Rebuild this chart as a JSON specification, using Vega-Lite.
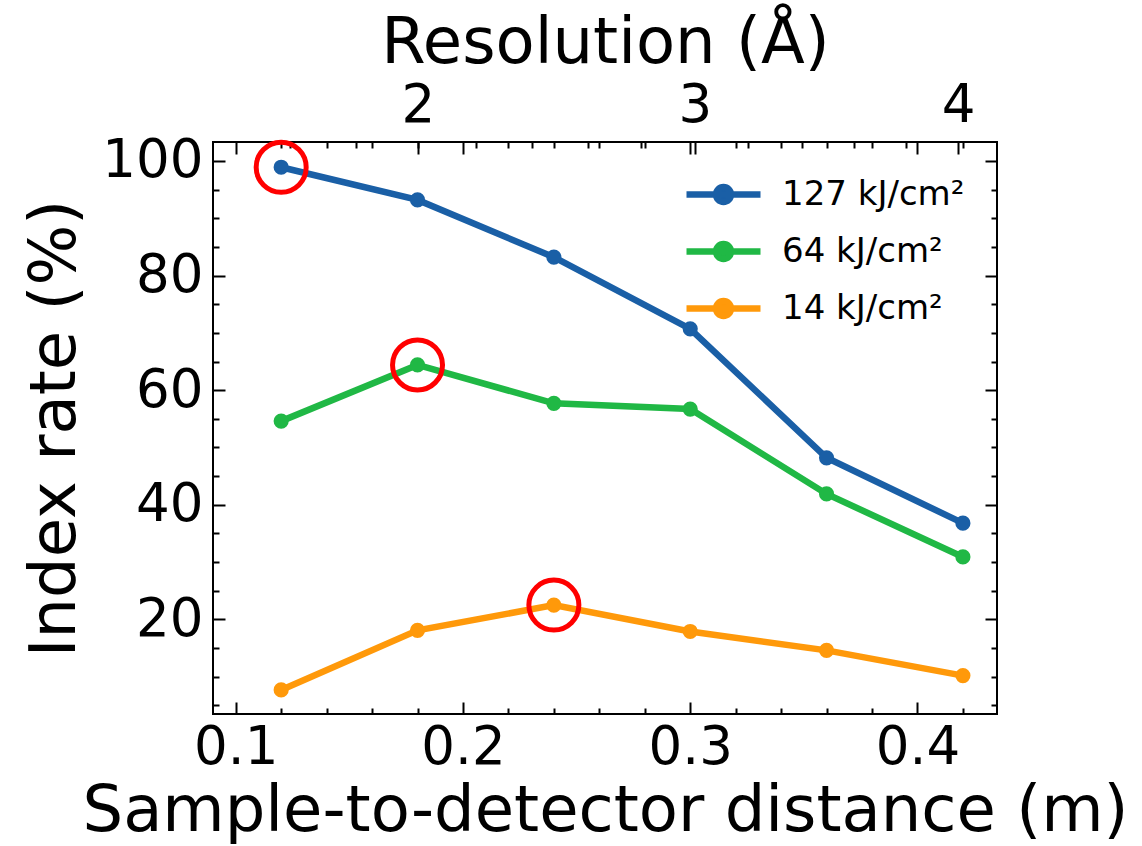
{
  "$schema": "https://vega.github.io/schema/vega-lite/v6.json",
  "width": 784,
  "height": 572,
  "autosize": {"type": "none"},
  "padding": {"left": 213, "top": 142, "right": 145, "bottom": 132},
  "background": "white",
  "data": {
    "values": [
      {"d": 0.12, "v": 98.9, "s": "127 kJ/cm²"},
      {"d": 0.18, "v": 93.2, "s": "127 kJ/cm²"},
      {"d": 0.24, "v": 83.2, "s": "127 kJ/cm²"},
      {"d": 0.30, "v": 70.7, "s": "127 kJ/cm²"},
      {"d": 0.36, "v": 48.2, "s": "127 kJ/cm²"},
      {"d": 0.42, "v": 36.8, "s": "127 kJ/cm²"},
      {"d": 0.12, "v": 54.6, "s": "64 kJ/cm²"},
      {"d": 0.18, "v": 64.4, "s": "64 kJ/cm²"},
      {"d": 0.24, "v": 57.7, "s": "64 kJ/cm²"},
      {"d": 0.30, "v": 56.7, "s": "64 kJ/cm²"},
      {"d": 0.36, "v": 41.9, "s": "64 kJ/cm²"},
      {"d": 0.42, "v": 30.9, "s": "64 kJ/cm²"},
      {"d": 0.12, "v": 7.7, "s": "14 kJ/cm²"},
      {"d": 0.18, "v": 18.1, "s": "14 kJ/cm²"},
      {"d": 0.24, "v": 22.5, "s": "14 kJ/cm²"},
      {"d": 0.30, "v": 17.9, "s": "14 kJ/cm²"},
      {"d": 0.36, "v": 14.6, "s": "14 kJ/cm²"},
      {"d": 0.42, "v": 10.2, "s": "14 kJ/cm²"}
    ]
  },
  "resolve": {
    "scale": {"x": "independent", "y": "independent"},
    "axis": {"x": "independent", "y": "independent"}
  },
  "config": {
    "font": "DejaVu Sans",
    "view": {"stroke": "black", "strokeWidth": 2},
    "axis": {
      "domain": false,
      "grid": false,
      "labelFont": "DejaVu Sans",
      "labelFontSize": 53,
      "labelColor": "black",
      "labelFlush": false,
      "labelOverlap": false,
      "labelBound": false,
      "titleFont": "DejaVu Sans",
      "titleFontSize": 64,
      "titleFontWeight": "normal",
      "titleColor": "black",
      "tickColor": "black",
      "tickWidth": 2
    }
  },
  "layer": [
    {
      "mark": {"type": "line", "strokeWidth": 6.5, "point": {"filled": true, "size": 230, "opacity": 1}},
      "encoding": {
        "x": {
          "field": "d", "type": "quantitative",
          "scale": {"domain": [0.09, 0.435], "nice": false, "zero": false},
          "axis": {"orient": "bottom", "values": [0.1, 0.2, 0.3, 0.4], "format": ".1f", "ticks": false, "labelPadding": 7, "title": "Sample-to-detector distance (m)", "titlePadding": 5}
        },
        "y": {
          "field": "v", "type": "quantitative",
          "scale": {"domain": [3.5, 103.3], "nice": false, "zero": false},
          "axis": {"orient": "left", "values": [20, 40, 60, 80, 100], "ticks": false, "labelPadding": 10, "title": "Index rate (%)", "titlePadding": 14}
        },
        "color": {
          "field": "s", "type": "nominal",
          "scale": {"domain": ["127 kJ/cm²", "64 kJ/cm²", "14 kJ/cm²"], "range": ["#1a5fa6", "#20b845", "#ff990a"]},
          "legend": {
            "orient": "none", "legendX": 482, "legendY": 24, "title": null, "padding": 0,
            "symbolType": "M-1.48,0H1.48M0.3,0A0.3,0.3 0 1 1 -0.3,0A0.3,0.3 0 1 1 0.3,0Z",
            "symbolSize": 2500, "symbolStrokeWidth": 6.5, "symbolOpacity": 1,
            "labelFontSize": 34, "labelFont": "DejaVu Sans", "labelColor": "black", "labelOffset": 30, "labelLimit": 400,
            "rowPadding": 8,
            "encode": {"symbols": {"update": {"fill": {"scale": "color", "field": "value"}, "stroke": {"scale": "color", "field": "value"}}}}
          }
        }
      }
    },
    {
      "data": {"values": [{"d": 0.12, "v": 98.9}, {"d": 0.18, "v": 64.4}, {"d": 0.24, "v": 22.5}]},
      "mark": {"type": "point", "shape": "circle", "filled": false, "stroke": "#ff0000", "strokeWidth": 5, "size": 2500, "opacity": 1},
      "encoding": {
        "x": {"field": "d", "type": "quantitative", "scale": {"domain": [0.09, 0.435], "nice": false, "zero": false}, "axis": null},
        "y": {"field": "v", "type": "quantitative", "scale": {"domain": [3.5, 103.3], "nice": false, "zero": false}, "axis": null}
      }
    },
    {
      "mark": {"type": "point", "opacity": 0},
      "encoding": {
        "x": {"field": "d", "type": "quantitative", "scale": {"domain": [0.09, 0.435], "nice": false, "zero": false},
              "axis": {"orient": "bottom", "values": [0.1, 0.2, 0.3, 0.4], "labels": false, "tickSize": -12, "title": null}},
        "y": {"field": "v", "type": "quantitative", "scale": {"domain": [3.5, 103.3], "nice": false, "zero": false},
              "axis": {"orient": "left", "values": [20, 40, 60, 80, 100], "labels": false, "tickSize": -12, "title": null}}
      }
    },
    {
      "mark": {"type": "point", "opacity": 0},
      "encoding": {
        "x": {"field": "d", "type": "quantitative", "scale": {"domain": [0.09, 0.435], "nice": false, "zero": false},
              "axis": {"orient": "bottom", "values": [0.12, 0.14, 0.16, 0.18, 0.22, 0.24, 0.26, 0.28, 0.32, 0.34, 0.36, 0.38, 0.42], "labels": false, "tickSize": -6, "title": null}},
        "y": {"field": "v", "type": "quantitative", "scale": {"domain": [3.5, 103.3], "nice": false, "zero": false},
              "axis": {"orient": "left", "values": [5, 10, 15, 25, 30, 35, 45, 50, 55, 65, 70, 75, 85, 90, 95], "labels": false, "tickSize": -6, "title": null}}
      }
    },
    {
      "mark": {"type": "point", "opacity": 0},
      "encoding": {
        "x": {"field": "d", "type": "quantitative", "scale": {"domain": [0.09, 0.435], "nice": false, "zero": false},
              "axis": {"orient": "top", "values": [0.1, 0.2, 0.3, 0.4], "labels": false, "tickSize": -12, "title": null}},
        "y": {"field": "v", "type": "quantitative", "scale": {"domain": [3.5, 103.3], "nice": false, "zero": false},
              "axis": {"orient": "right", "values": [20, 40, 60, 80, 100], "labels": false, "tickSize": -12, "title": null}}
      }
    },
    {
      "mark": {"type": "point", "opacity": 0},
      "encoding": {
        "x": {"field": "d", "type": "quantitative", "scale": {"domain": [0.09, 0.435], "nice": false, "zero": false},
              "axis": {"orient": "top", "values": [0.12, 0.14, 0.16, 0.18, 0.22, 0.24, 0.26, 0.28, 0.32, 0.34, 0.36, 0.38, 0.42], "labels": false, "tickSize": -6, "title": null}},
        "y": {"field": "v", "type": "quantitative", "scale": {"domain": [3.5, 103.3], "nice": false, "zero": false},
              "axis": {"orient": "right", "values": [5, 10, 15, 25, 30, 35, 45, 50, 55, 65, 70, 75, 85, 90, 95], "labels": false, "tickSize": -6, "title": null}}
      }
    },
    {
      "mark": {"type": "point", "opacity": 0},
      "encoding": {
        "x": {"field": "d", "type": "quantitative", "scale": {"domain": [0.09, 0.435], "nice": false, "zero": false},
              "axis": {"orient": "top", "values": [0.1802, 0.302, 0.4179], "labelExpr": "datum.value < 0.2 ? '2' : (datum.value < 0.35 ? '3' : '4')", "ticks": false, "labelPadding": 10, "title": "Resolution (Å)", "titlePadding": 4}},
        "y": {"field": "v", "type": "quantitative", "scale": {"domain": [3.5, 103.3], "nice": false, "zero": false}, "axis": null}
      }
    },
    {
      "mark": {"type": "point", "opacity": 0},
      "encoding": {
        "x": {"field": "d", "type": "quantitative", "scale": {"domain": [0.09, 0.435], "nice": false, "zero": false},
              "axis": {"orient": "top", "values": [0.1802, 0.302, 0.4179], "labels": false, "tickSize": -12, "title": null}},
        "y": {"field": "v", "type": "quantitative", "scale": {"domain": [3.5, 103.3], "nice": false, "zero": false}, "axis": null}
      }
    },
    {
      "mark": {"type": "point", "opacity": 0},
      "encoding": {
        "x": {"field": "d", "type": "quantitative", "scale": {"domain": [0.09, 0.435], "nice": false, "zero": false},
              "axis": {"orient": "top", "values": [0.124, 0.153, 0.2057, 0.2304, 0.2552, 0.2784, 0.3256, 0.349, 0.372, 0.3951], "labels": false, "tickSize": -6, "title": null}},
        "y": {"field": "v", "type": "quantitative", "scale": {"domain": [3.5, 103.3], "nice": false, "zero": false}, "axis": null}
      }
    }
  ]
}
